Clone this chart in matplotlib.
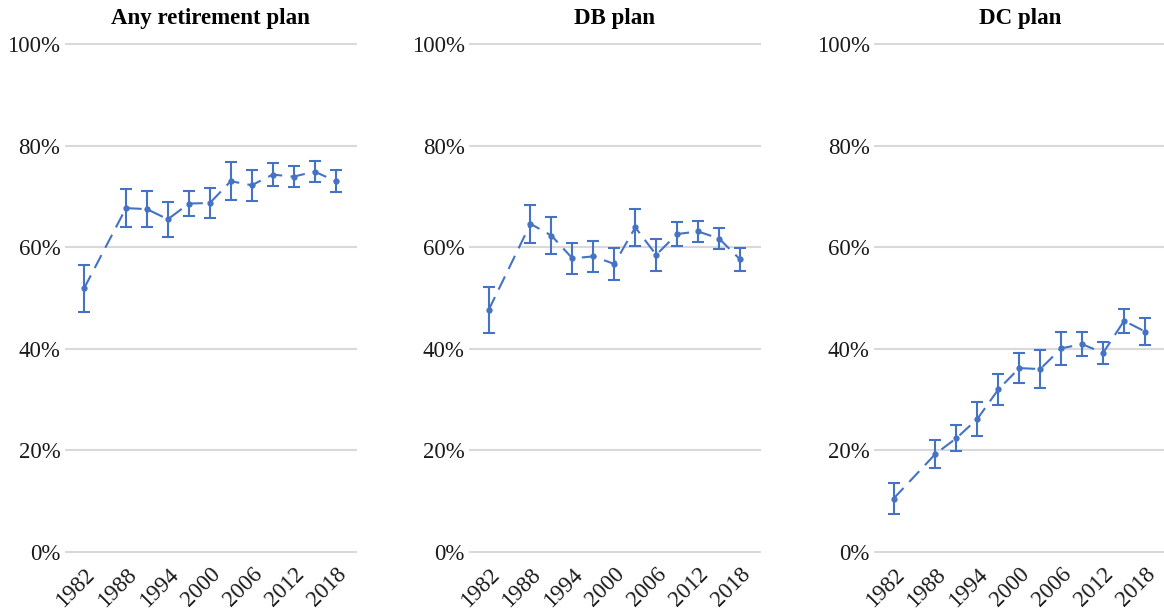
import numpy as np
import matplotlib
matplotlib.use("Agg")
from matplotlib import pyplot as plt
from matplotlib.ticker import FuncFormatter

plt.rcParams['font.family'] = ['Liberation Serif', 'DejaVu Serif']

years = [1982, 1988, 1991, 1994, 1997, 2000, 2003, 2006, 2009, 2012, 2015, 2018]
tick_years = [1982, 1988, 1994, 2000, 2006, 2012, 2018]

titles = ["Any retirement plan", "DB plan", "DC plan"]

# share of workers covered (%) and half-width of the confidence interval
any_plan = [51.9, 67.7, 67.5, 65.5, 68.6, 68.7, 73.0, 72.2, 74.3, 73.9, 74.9, 73.0]
any_err = [4.6, 3.7, 3.6, 3.4, 2.5, 2.9, 3.8, 3.1, 2.3, 2.0, 2.0, 2.2]

db_plan = [47.6, 64.6, 62.3, 57.8, 58.2, 56.7, 63.9, 58.5, 62.6, 63.1, 61.7, 57.6]
db_err = [4.5, 3.7, 3.7, 3.0, 3.0, 3.2, 3.7, 3.1, 2.4, 2.1, 2.1, 2.3]

dc_plan = [10.5, 19.3, 22.4, 26.2, 32.0, 36.2, 36.0, 40.1, 40.9, 39.2, 45.5, 43.4]
dc_err = [3.1, 2.8, 2.5, 3.3, 3.0, 3.0, 3.8, 3.2, 2.4, 2.2, 2.4, 2.6]

series = [(any_plan, any_err), (db_plan, db_err), (dc_plan, dc_err)]

blue = "#4472C4"

fig = plt.figure(figsize=(11.64, 6.12), dpi=100)

lefts = [64.5, 469, 874]
for i in range(3):
    ax = fig.add_axes([lefts[i] / 1164, 1 - 557 / 612, 292 / 1164, 518 / 612])
    vals, err = series[i]

    ax.errorbar(years, vals, yerr=err, color=blue, lw=1.5, capsize=4.2,
                capthick=1.5, elinewidth=1.5, marker='o', markersize=3.5,
                dashes=(7, 4), zorder=3)

    ax.set_xlim(1979.2, 2021)
    ax.set_ylim(-1, 101)
    ax.set_yticks([0, 20, 40, 60, 80, 100])
    ax.yaxis.set_major_formatter(FuncFormatter(lambda v, p: "%d%%" % v))
    ax.set_xticks(tick_years)
    ax.set_xticklabels([str(y) for y in tick_years], rotation=45, ha='right',
                       va='top', rotation_mode='anchor')
    ax.tick_params(length=0, labelsize=16.5, colors="#1a1a1a", pad=3)
    ax.tick_params(axis='x', pad=5)

    ax.grid(axis='y', color="#d9d9d9", lw=1.5)
    ax.set_axisbelow(True)
    for s in ax.spines.values():
        s.set_visible(False)

    ax.set_title(titles[i], fontsize=16.5, fontweight='bold', pad=11)

fig.savefig("out.png", dpi=100)
